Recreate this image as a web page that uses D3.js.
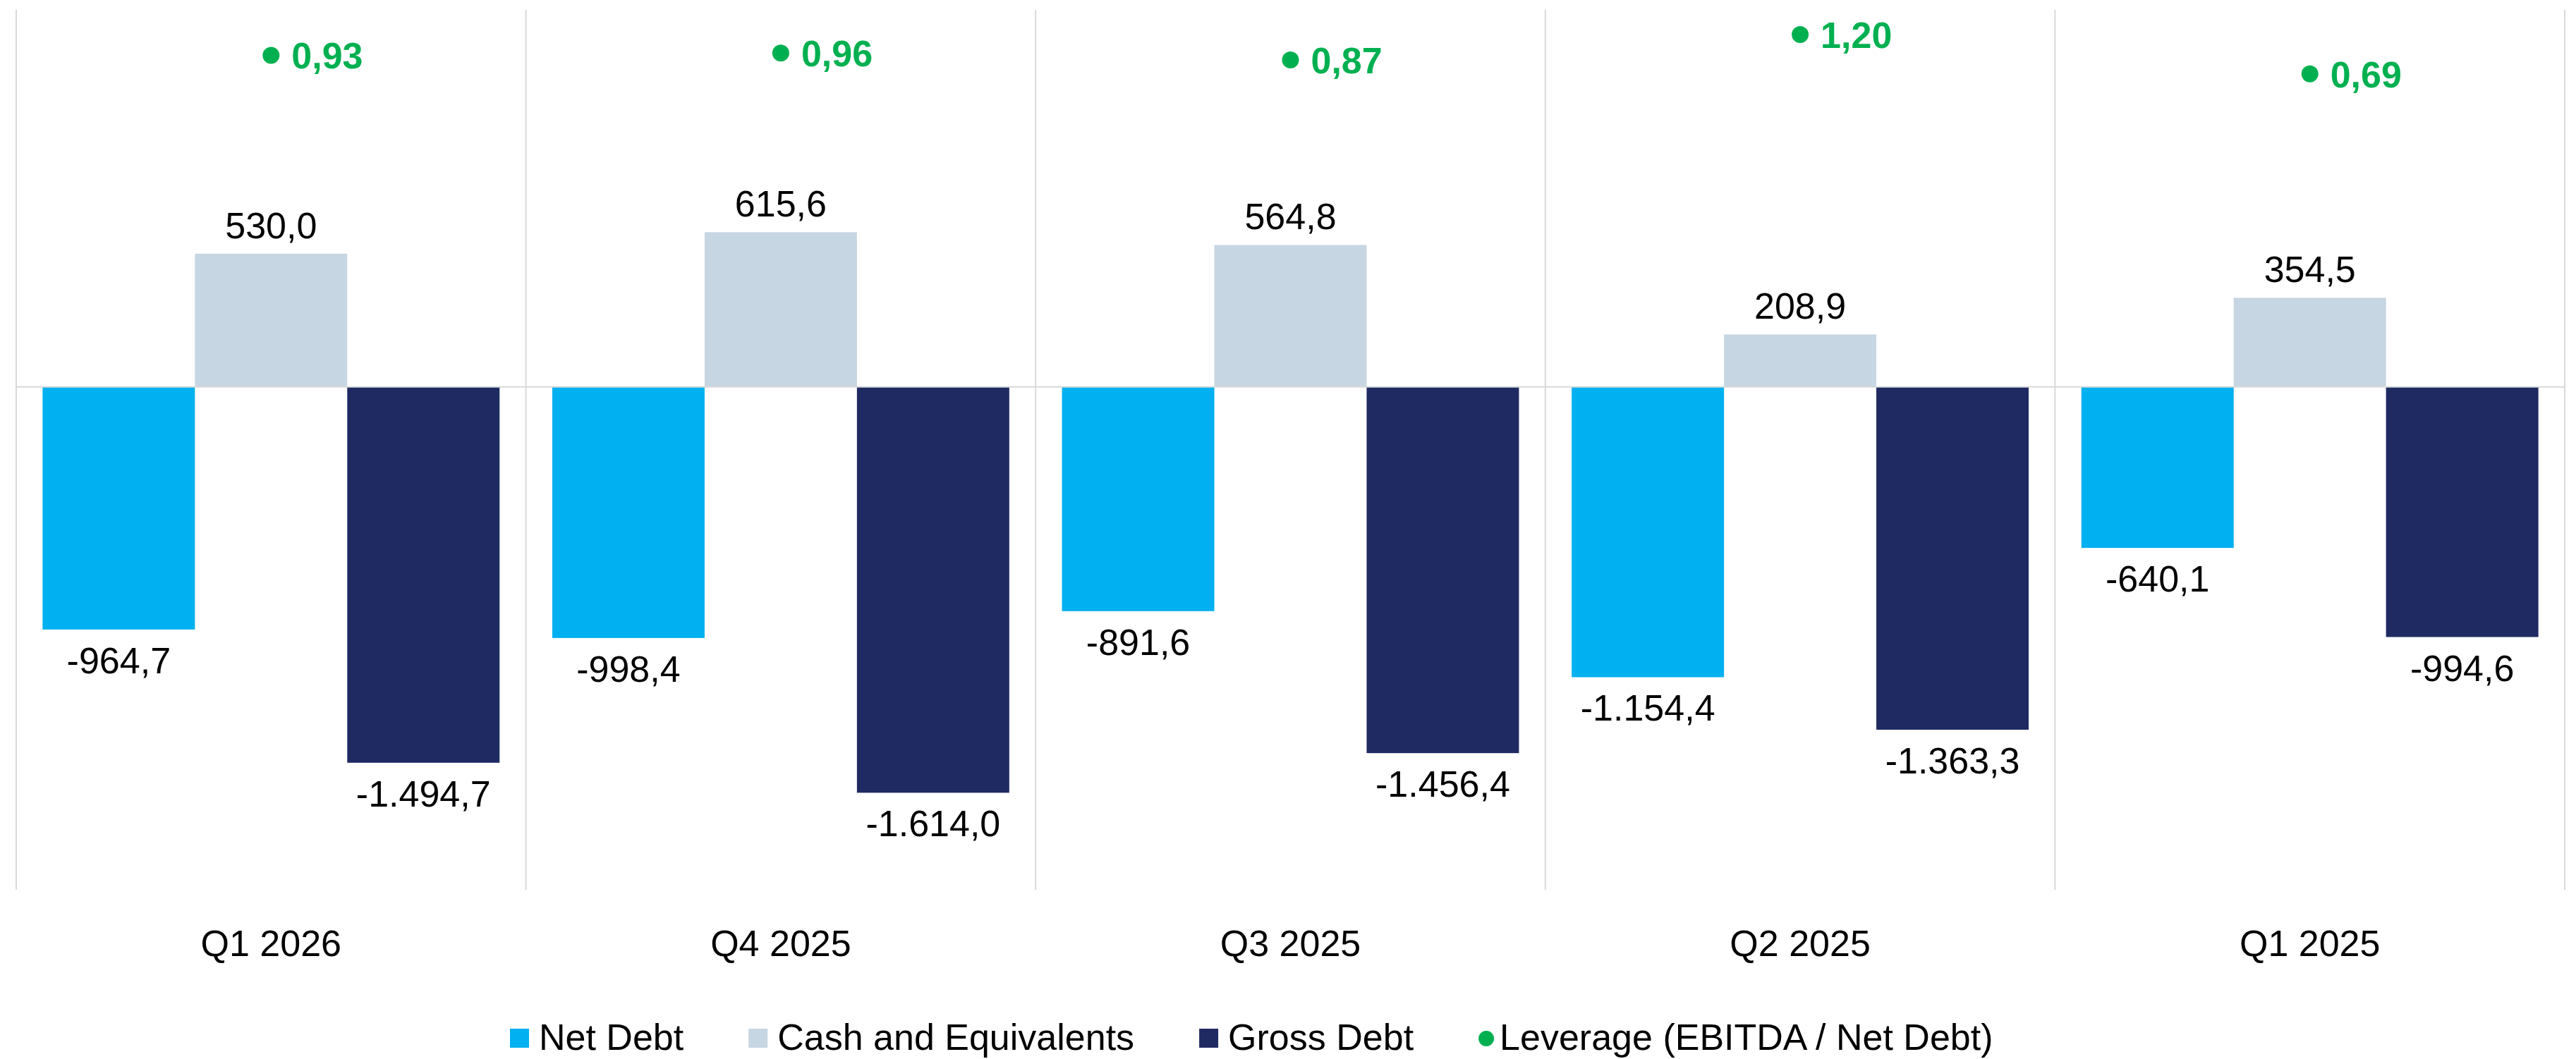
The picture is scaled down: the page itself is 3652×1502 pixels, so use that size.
<!DOCTYPE html>
<html lang="en">
<head>
<meta charset="UTF-8">
<title>Debt chart</title>
<script src="https://d3js.org/d3.v7.min.js"></script>
<style>
  body { margin: 0; background: #fff; }
  text { font-family: "Liberation Sans", Arial, sans-serif; }
</style>
</head>
<body>
<div class="chart"></div>
<script>
// data
const quarters = ['Q1 2026', 'Q4 2025', 'Q3 2025', 'Q2 2025', 'Q1 2025']
const seriesNames = ['Net Debt', 'Cash and Equivalents', 'Gross Debt']
const netDebt = [-964.7, -998.4, -891.6, -1154.4, -640.1]
const cash = [530.0, 615.6, 564.8, 208.9, 354.5]
const grossDebt = [-1494.7, -1614.0, -1456.4, -1363.3, -994.6]
const leverage = [0.93, 0.96, 0.87, 1.20, 0.69]
const leverageName = 'Leverage (EBITDA / Net Debt)'
const colors = ['#00b0f0', '#c7d6e3', '#1f2a63']
const green = '#00b050'

const width = 3652, height = 1502

const svg = d3.select('.chart').append('svg')
  .attr('width', width)
  .attr('height', height)

// scales
const x = d3.scaleBand().domain(quarters).range([23, 3636]).padding(0)
const xInner = d3.scaleBand().domain(seriesNames).range([0, x.bandwidth()])
  .paddingInner(0).paddingOuter(0.173)
const y = d3.scaleLinear().domain([-2000, 1500]).range([1262, 14])
const yLev = d3.scaleLinear().domain([0, 1.2]).range([180, 49])

const fmt = v => {
  // 1.234,5 style
  const s = d3.format(',.1f')(Math.abs(v)).replace(/,/g, '#').replace('.', ',').replace(/#/g, '.')
  return (v < 0 ? '-' : '') + s
}

// grid: vertical dividers + zero line
const edges = quarters.map(q => x(q)).concat([x.range()[1]])
svg.append('g').selectAll('line').data(edges).join('line')
  .attr('x1', d => d).attr('x2', d => d)
  .attr('y1', y.range()[1]).attr('y2', y.range()[0])
  .attr('stroke', '#d9d9d9').attr('stroke-width', 2)

// bars
const rows = []
quarters.forEach((q, i) => {
  [netDebt[i], cash[i], grossDebt[i]].forEach((v, j) => {
    rows.push({ q: q, s: seriesNames[j], v: v, c: colors[j] })
  })
})

svg.append('g').selectAll('rect').data(rows).join('rect')
  .attr('x', d => x(d.q) + xInner(d.s))
  .attr('width', xInner.bandwidth())
  .attr('y', d => y(Math.max(0, d.v)))
  .attr('height', d => Math.abs(y(d.v) - y(0)))
  .attr('fill', d => d.c)

svg.append('line')
  .attr('x1', x.range()[0]).attr('x2', x.range()[1])
  .attr('y1', y(0)).attr('y2', y(0))
  .attr('stroke', '#d9d9d9').attr('stroke-width', 2)

// bar labels
svg.append('g').selectAll('text').data(rows).join('text')
  .attr('x', d => x(d.q) + xInner(d.s) + xInner.bandwidth() / 2)
  .attr('y', d => d.v >= 0 ? y(d.v) - 22 : y(d.v) + 62)
  .attr('text-anchor', 'middle')
  .attr('font-size', 52)
  .attr('fill', '#000')
  .text(d => fmt(d.v))

// leverage dots + labels
const lev = svg.append('g')
lev.selectAll('circle').data(leverage).join('circle')
  .attr('cx', (d, i) => x(quarters[i]) + x.bandwidth() / 2)
  .attr('cy', d => yLev(d))
  .attr('r', 12)
  .attr('fill', green)
lev.selectAll('text').data(leverage).join('text')
  .attr('x', (d, i) => x(quarters[i]) + x.bandwidth() / 2 + 29)
  .attr('y', d => yLev(d) + 19)
  .attr('font-size', 52)
  .attr('font-weight', 'bold')
  .attr('fill', green)
  .text(d => d.toFixed(2).replace('.', ','))

// category labels
svg.append('g').selectAll('text').data(quarters).join('text')
  .attr('x', d => x(d) + x.bandwidth() / 2)
  .attr('y', 1356)
  .attr('text-anchor', 'middle')
  .attr('font-size', 52)
  .attr('fill', '#000')
  .text(d => d)

// legend
const legend = svg.append('g')
let lx = 723
const ly = 1489
seriesNames.concat([leverageName]).forEach((name, i) => {
  if (i < 3) {
    legend.append('rect')
      .attr('x', lx).attr('y', 1459)
      .attr('width', 27).attr('height', 27)
      .attr('fill', colors[i])
    lx += 41
  } else {
    legend.append('circle')
      .attr('cx', lx + 11).attr('cy', 1473).attr('r', 11)
      .attr('fill', green)
    lx += 30
  }
  const t = legend.append('text')
    .attr('x', lx).attr('y', ly)
    .attr('font-size', 52)
    .attr('fill', '#000')
    .text(name)
  lx += t.node().getComputedTextLength() + 92
})
</script>
</body>
</html>
